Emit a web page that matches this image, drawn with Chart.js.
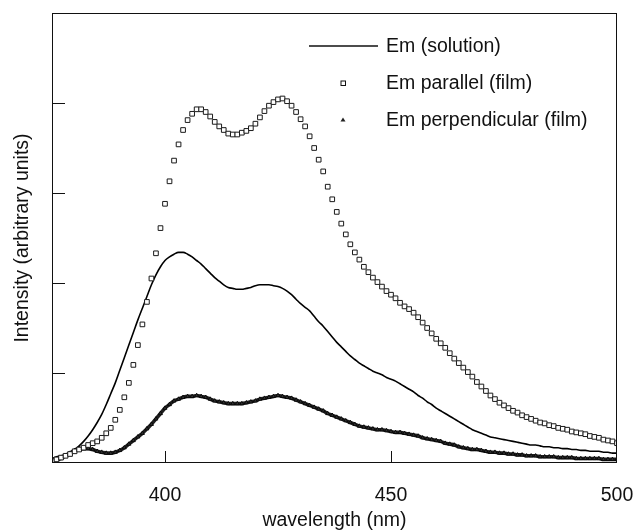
<!DOCTYPE html>
<html><head><meta charset="utf-8">
<script src="https://cdn.jsdelivr.net/npm/chart.js@4/dist/chart.umd.min.js"></script>
<style>html,body{margin:0;padding:0;background:#fff;overflow:hidden}</style>
</head><body>
<canvas id="c" width="637" height="530"></canvas>
<script>
const wavelengths = [375,376,377,378,379,380,381,382,383,384,385,386,387,388,389,390,391,392,393,394,395,396,397,398,399,
400,401,402,403,404,405,406,407,408,409,410,411,412,413,414,415,416,417,418,419,420,421,422,423,424,425,426,427,428,429,
430,431,432,433,434,435,436,437,438,439,440,441,442,443,444,445,446,447,448,449,450,451,452,453,454,455,456,457,458,459,
460,461,462,463,464,465,466,467,468,469,470,471,472,473,474,475,476,477,478,479,480,481,482,483,484,485,486,487,488,489,
490,491,492,493,494,495,496,497,498,499,500];

const emSolution = [0.05,0.07,0.08,0.10,0.12,0.15,0.19,0.24,0.30,0.37,0.45,0.54,0.65,0.77,0.89,1.03,1.17,1.31,1.45,1.59,1.72,1.85,1.98,2.09,2.18,
2.25,2.29,2.32,2.34,2.34,2.32,2.29,2.25,2.21,2.16,2.11,2.06,2.02,1.98,1.95,1.94,1.93,1.93,1.94,1.95,1.97,1.98,1.98,1.98,1.97,1.96,1.94,1.91,1.87,1.82,
1.77,1.73,1.69,1.63,1.57,1.52,1.46,1.40,1.34,1.29,1.24,1.19,1.15,1.11,1.08,1.05,1.02,1.00,0.98,0.95,0.93,0.91,0.88,0.85,0.82,0.79,0.75,0.72,0.68,0.65,
0.61,0.58,0.55,0.52,0.49,0.46,0.43,0.40,0.37,0.35,0.33,0.31,0.29,0.28,0.27,0.26,0.25,0.24,0.23,0.22,0.21,0.20,0.20,0.19,0.18,0.18,0.17,0.17,0.16,0.16,
0.15,0.15,0.14,0.14,0.13,0.13,0.13,0.12,0.12,0.11,0.11];

const emParallel = [0.02,0.04,0.06,0.08,0.10,0.13,0.15,0.17,0.20,0.22,0.24,0.28,0.33,0.39,0.48,0.59,0.73,0.89,1.09,1.31,1.54,1.79,2.05,2.33,2.61,
2.88,3.13,3.36,3.54,3.70,3.81,3.88,3.93,3.93,3.90,3.85,3.79,3.74,3.70,3.66,3.65,3.65,3.67,3.69,3.72,3.77,3.84,3.91,3.97,4.01,4.04,4.05,4.02,3.97,3.90,
3.82,3.74,3.63,3.50,3.37,3.24,3.07,2.93,2.79,2.66,2.54,2.43,2.34,2.26,2.18,2.12,2.06,2.01,1.96,1.91,1.87,1.83,1.78,1.74,1.71,1.67,1.62,1.56,1.50,1.44,
1.38,1.33,1.28,1.22,1.16,1.11,1.06,1.01,0.96,0.90,0.85,0.80,0.75,0.71,0.67,0.64,0.61,0.58,0.56,0.53,0.51,0.49,0.47,0.45,0.44,0.42,0.41,0.39,0.38,0.37,
0.35,0.34,0.33,0.32,0.30,0.29,0.28,0.26,0.25,0.24,0.22];

const emPerpendicular = [0.01,0.03,0.05,0.08,0.11,0.14,0.16,0.16,0.16,0.15,0.13,0.12,0.11,0.11,0.12,0.14,0.17,0.21,0.25,0.29,0.33,0.38,0.43,0.49,0.55,
0.61,0.65,0.69,0.71,0.73,0.74,0.74,0.75,0.74,0.73,0.71,0.69,0.68,0.67,0.66,0.66,0.66,0.66,0.67,0.68,0.69,0.71,0.72,0.73,0.74,0.75,0.74,0.73,0.72,0.70,
0.68,0.66,0.64,0.62,0.60,0.58,0.55,0.53,0.51,0.49,0.47,0.45,0.43,0.41,0.40,0.39,0.38,0.37,0.37,0.36,0.35,0.34,0.34,0.33,0.32,0.31,0.30,0.28,0.27,0.26,
0.25,0.24,0.22,0.21,0.20,0.18,0.17,0.16,0.15,0.15,0.14,0.13,0.12,0.12,0.11,0.11,0.10,0.10,0.09,0.09,0.08,0.08,0.08,0.07,0.07,0.07,0.07,0.06,0.06,0.06,
0.06,0.05,0.05,0.05,0.05,0.05,0.05,0.04,0.04,0.04,0.04];

const xTickValues = [400, 450, 500];
const xInnerTicks = [400, 450];
const yInnerTicks = [1, 2, 3, 4];
const seriesLabels = ['Em (solution)', 'Em parallel (film)', 'Em perpendicular (film)'];
const xTitle = 'wavelength (nm)';
const yTitle = 'Intensity (arbitrary units)';

const FONT = "'Liberation Sans', Arial, Helvetica, sans-serif";
const INK = '#111';
const pts = arr => wavelengths.map((w, i) => ({x: w, y: arr[i]}));

const frameAndTicks = {
  id: 'frameAndTicks',
  afterDatasetsDraw(chart) {
    const {ctx, chartArea: a, scales: {x, y}} = chart;
    ctx.save();
    ctx.strokeStyle = INK;
    ctx.lineWidth = 1;
    ctx.strokeRect(a.left + 0.5, a.top + 0.5, a.right - a.left - 1, a.bottom - a.top - 1);
    ctx.beginPath();
    yInnerTicks.forEach(v => {
      const py = Math.round(y.getPixelForValue(v)) + 0.5;
      ctx.moveTo(a.left, py); ctx.lineTo(a.left + 13, py);
    });
    xInnerTicks.forEach(v => {
      const px = Math.round(x.getPixelForValue(v)) + 0.5;
      ctx.moveTo(px, a.bottom); ctx.lineTo(px, a.bottom - 12);
    });
    ctx.stroke();
    ctx.restore();
  }
};

const insideLegend = {
  id: 'insideLegend',
  afterDraw(chart) {
    const {ctx} = chart;
    ctx.save();
    ctx.fillStyle = INK;
    ctx.strokeStyle = INK;
    ctx.font = '19.5px ' + FONT;
    ctx.textBaseline = 'middle';
    ctx.textAlign = 'left';
    const rows = [46, 83, 120];
    ctx.lineWidth = 1.6;
    ctx.beginPath(); ctx.moveTo(309, rows[0]); ctx.lineTo(378, rows[0]); ctx.stroke();
    ctx.lineWidth = 1;
    ctx.fillStyle = '#fff';
    ctx.fillRect(341, rows[1] - 2, 4.5, 4.5);
    ctx.strokeRect(341, rows[1] - 2, 4.5, 4.5);
    ctx.fillStyle = '#222';
    ctx.beginPath();
    ctx.moveTo(343, rows[2] - 2.5); ctx.lineTo(345.5, rows[2] + 1.5); ctx.lineTo(340.5, rows[2] + 1.5); ctx.closePath();
    ctx.fill();
    ctx.fillStyle = INK;
    seriesLabels.forEach((t, i) => ctx.fillText(t, 386, rows[i] + 1));
    ctx.restore();
  }
};

new Chart(document.getElementById('c'), {
  type: 'line',
  data: {
    datasets: [
      {
        label: seriesLabels[2], data: pts(emPerpendicular),
        showLine: true, borderColor: '#1e1e1e', borderWidth: 3.6, cubicInterpolationMode: 'monotone',
        pointStyle: 'triangle', pointRadius: 2.3, pointBackgroundColor: '#333', pointBorderColor: '#000', pointBorderWidth: 0.8,
        order: 3
      },
      {
        label: seriesLabels[0], data: pts(emSolution),
        showLine: true, borderColor: '#000', borderWidth: 1.6, cubicInterpolationMode: 'monotone',
        pointRadius: 0, order: 2
      },
      {
        label: seriesLabels[1], data: pts(emParallel),
        showLine: false, pointStyle: 'rect', pointRadius: 3.3,
        pointBackgroundColor: '#fff', pointBorderColor: '#1a1a1a', pointBorderWidth: 1, order: 1
      }
    ]
  },
  options: {
    responsive: false,
    animation: false,
    events: [],
    layout: {padding: {top: 13, right: 0, left: 0, bottom: 0}},
    plugins: {legend: {display: false}, tooltip: {enabled: false}},
    scales: {
      x: {
        type: 'linear', min: 375, max: 500,
        afterBuildTicks: s => { s.ticks = xTickValues.map(v => ({value: v})); },
        afterFit: s => { s.height = 67; s.paddingRight = 20; s.paddingLeft = 0; },
        grid: {display: false, drawTicks: false},
        border: {display: false},
        ticks: {autoSkip: false, maxRotation: 0, padding: 21, color: INK, font: {family: FONT, size: 19.5}},
        title: {display: true, text: xTitle, color: INK, font: {family: FONT, size: 19.5, lineHeight: 1}, padding: {top: 0, bottom: 0}}
      },
      y: {
        type: 'linear', min: 0, max: 5,
        afterFit: s => { s.width = 52; },
        grid: {display: false, drawTicks: false},
        border: {display: false},
        ticks: {display: false, stepSize: 1},
        title: {display: true, text: yTitle, color: INK, font: {family: FONT, size: 19.5, lineHeight: 1}, padding: {top: 13, bottom: 0}}
      }
    }
  },
  plugins: [frameAndTicks, insideLegend]
});
</script>
</body></html>
